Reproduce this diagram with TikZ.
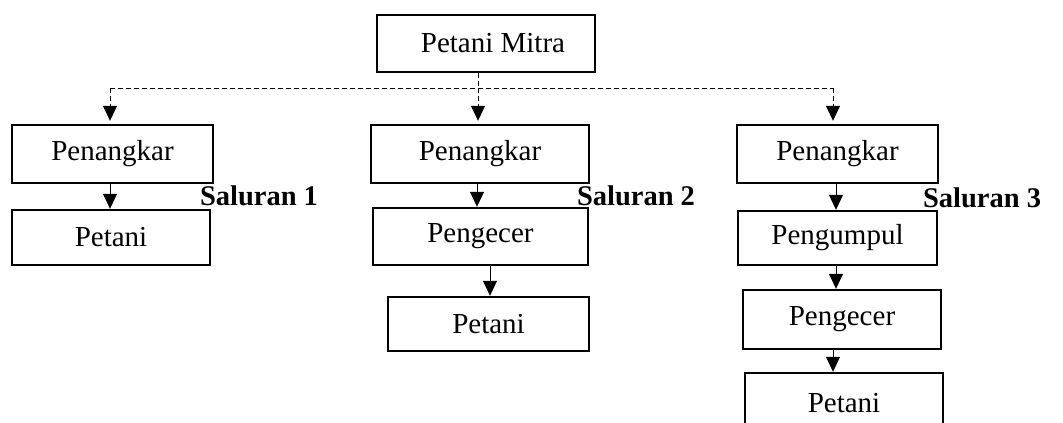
\documentclass[tikz,border=0pt]{standalone}
\usepackage{fontspec}
\setmainfont{Liberation Serif}
\usetikzlibrary{arrows.meta}
\begin{document}
\begin{tikzpicture}[x=1pt,y=-1pt,
  box/.style={draw,line width=2.4pt,inner sep=0pt,font=\fontsize{29}{33}\selectfont},
  lab/.style={inner sep=0pt,font=\fontsize{28.5}{33}\selectfont\bfseries},
  arr/.style={line width=1pt,-{Triangle[width=14pt,length=15pt]}},
  dsh/.style={line width=1pt,dash pattern=on 5pt off 3pt}]
\useasboundingbox (0,0) rectangle (1063,423);
% top node
\node[box,minimum width=218pt,minimum height=57pt] (pm) at (486,43.5) {\hspace{14pt}Petani Mitra};
% channel 1
\node[box,minimum width=201pt,minimum height=58pt] (a1) at (112.5,154) {Penangkar};
\node[box,minimum width=198pt,minimum height=55pt] (a2) at (111,237.5) {Petani};
% channel 2
\node[box,minimum width=218pt,minimum height=58pt] (b1) at (480,154) {Penangkar};
\node[box,minimum width=215pt,minimum height=57pt] (b2) at (480.5,236.5) {Pengecer};
\node[box,minimum width=201pt,minimum height=54pt] (b3) at (488.5,324) {Petani};
% channel 3
\node[box,minimum width=201pt,minimum height=58pt] (c1) at (837.5,154) {Penangkar};
\node[box,minimum width=199pt,minimum height=54pt] (c2) at (837.5,238) {Pengumpul};
\node[box,minimum width=198pt,minimum height=59pt] (c3) at (842,319.5) {Pengecer};
\node[box,minimum width=198pt,minimum height=60pt] (c4) at (844,403) {Petani};
% channel labels
\node[lab] (s1) at (259,196) {Saluran 1};
\node[lab] (s2) at (636,196) {Saluran 2};
\node[lab] (s3) at (982,198) {Saluran 3};
% dashed distribution lines
\coordinate (bus) at (0,88);
\coordinate (t1) at ([xshift=-2.5pt]a1.north);
\coordinate (t2) at ([xshift=-2pt]b1.north);
\coordinate (t3) at ([xshift=-4.5pt]c1.north);
\draw[dsh] ([xshift=-8pt]pm.south) -- (t2 |- bus);
\draw[dsh] (t1 |- bus) -- (t3 |- bus);
\draw[dsh,arr,shorten >=3pt] (t1 |- bus) -- (t1);
\draw[dsh,arr,shorten >=3pt] (t2 |- bus) -- (t2);
\draw[dsh,arr,shorten >=3pt] (t3 |- bus) -- (t3);
% solid flow arrows
\draw[arr] ([xshift=-2.5pt]a1.south) -- (t1 |- a2.north);
\draw[arr] ([xshift=-3pt]b1.south) -- ([xshift=-3pt]b1.south |- b2.north);
\draw[arr] ([xshift=1.5pt]b3.north |- b2.south) -- ([xshift=1.5pt]b3.north);
\draw[arr] ([xshift=-1.5pt]c1.south) -- ([xshift=-1.5pt]c1.south |- c2.north);
\draw[arr] ([xshift=-1.5pt]c2.south) -- ([xshift=-1.5pt]c2.south |- c3.north);
\draw[arr] ([xshift=-11pt]c4.north |- c3.south) -- ([xshift=-11pt]c4.north);
\end{tikzpicture}
\end{document}
